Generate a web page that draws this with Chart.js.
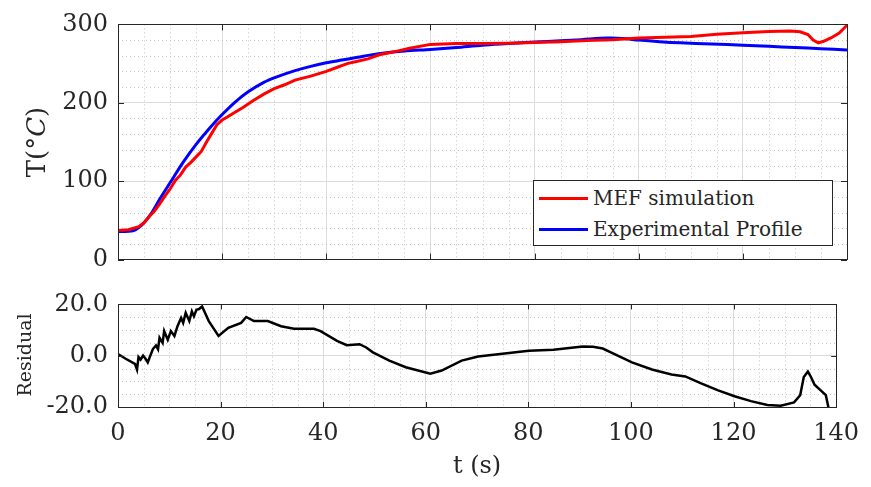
<!DOCTYPE html>
<html>
<head>
<meta charset="utf-8">
<script src="https://cdn.jsdelivr.net/npm/chart.js@4.4.1/dist/chart.umd.min.js"></script>
<style>
  body { margin: 0; background: #fff; }
  #lienzo { position: relative; width: 871px; height: 487px; font-family: "DejaVu Serif", serif; color: #262626; }
  #cajaTemp { position: absolute; left: 0; top: 0; width: 871px; height: 284px; z-index: 1; }
  #cajaRes { position: absolute; left: 0; top: 280px; width: 871px; height: 207px; }
  .etiquetaY { position: absolute; white-space: nowrap; transform: translate(-50%, -50%) rotate(-90deg); z-index: 2; }
  #leyenda { position: absolute; left: 533px; top: 180px; width: 298px; height: 64px; border: 1px solid #262626; background: #fff; font-size: 20px; z-index: 2; }
  .fila { position: absolute; left: 0; height: 30px; line-height: 30px; white-space: nowrap; }
  .muestra { position: absolute; left: 5px; top: 14px; width: 49px; height: 3px; }
  .texto { position: absolute; left: 59px; top: 0; }
</style>
</head>
<body>
<div id="lienzo">
  <div id="cajaTemp"><canvas id="graficoTemp"></canvas></div>
  <div id="cajaRes"><canvas id="graficoRes"></canvas></div>
  <div class="etiquetaY" style="left:36px; top:142px; font-size:26px;">T(°<i>C</i>)</div>
  <div class="etiquetaY" style="left:24px; top:355px; font-size:19px;">Residual</div>
  <div id="leyenda"></div>
</div>
<script>
// Datos
const tSim = [0, 2, 4, 5, 6, 7, 8, 9, 10, 11, 12, 13, 14, 15, 16, 17, 18, 19, 20, 21, 22, 24, 26, 28, 30, 32, 34, 37, 40, 42, 44, 46, 48, 50, 53, 56, 60, 65, 70, 75, 80, 85, 90, 95, 100, 105, 110, 115, 120, 125, 129, 131, 132.5, 133.5, 134.5, 135.5, 137, 138.5, 140];
const tempSim = [37, 38, 42, 47, 55, 62, 71, 81, 90, 101, 108, 118, 124, 131, 138, 150, 161, 172, 178, 182, 186, 194, 203, 211, 218, 223, 229, 234, 240, 245, 250, 253, 256, 261, 265, 269.5, 274.5, 275.5, 275.5, 276, 277, 278, 279.5, 280.5, 282.5, 283.5, 284.5, 287.5, 289.5, 291, 291.5, 290.5, 287, 280, 276.5, 278.5, 283, 289, 299];

const tExp = [0, 2, 3, 4, 5, 6.5, 8, 10, 12.5, 15, 17.5, 20, 22.5, 25, 28, 30.5, 34, 37, 40, 43, 46, 50, 55, 60, 65, 70, 75, 80, 85, 89, 94, 97, 100, 104, 108, 114, 120, 125, 130, 135, 140];
const tempExp = [36, 36, 37, 41, 47, 60, 77, 98, 124, 147, 167, 185, 201, 214, 226, 233, 241, 246.5, 251, 254.5, 258, 262.5, 266, 268, 270.5, 273.5, 275.5, 277.5, 279, 280.5, 282.5, 282, 280, 278, 276.5, 275, 273.5, 272, 270.5, 269, 267.5];

const tRes = [0, 1.5, 3.3, 3.7, 4.0, 4.4, 4.9, 5.3, 5.8, 6.2, 6.8, 7.4, 7.8, 8.1, 8.7, 9.0, 9.7, 10.3, 11.0, 11.6, 12.3, 12.7, 13.2, 13.9, 14.4, 14.8, 15.3, 15.8, 16.4, 17.7, 19.6, 21.5, 24.0, 25.0, 26.5, 29.2, 31.8, 34.3, 38.2, 39.5, 42.7, 44.6, 47.1, 48.4, 49.7, 52.9, 56.1, 60.9, 63.1, 67.0, 70.2, 74.1, 80.1, 84.9, 90.6, 92.6, 94.5, 96.4, 100.2, 104.1, 107.9, 110.6, 113.8, 117.0, 120.2, 123.4, 126.6, 129.2, 131.8, 133.0, 133.7, 134.5, 135.1, 135.8, 137.0, 138.0, 138.7];
const residual = [0.6, -1.2, -3.2, -5.4, -0.5, -1.5, 0, -1, -2.6, -0.5, 2.6, 4, 2.5, 7, 5, 9.6, 6.2, 9.6, 7.7, 11.5, 14.7, 12.8, 16.7, 13.5, 17.3, 15.4, 17.9, 18.2, 19.2, 13.5, 7.7, 10.9, 12.8, 15.1, 13.5, 13.5, 11.5, 10.5, 10.5, 9.6, 5.8, 4.1, 4.5, 3.2, 1.3, -1.9, -4.5, -7, -5.8, -1.9, -0.3, 0.6, 1.9, 2.3, 3.6, 3.5, 2.8, 1, -2.6, -5.4, -7.3, -8.1, -10.9, -13.5, -15.8, -17.7, -19.2, -19.5, -18.2, -15.4, -8.3, -6.2, -8.3, -11.3, -13.5, -15.4, -22];

const etiquetasSeries = ['MEF simulation', 'Experimental Profile'];
const coloresSeries = ['#ff0000', '#0000ff'];

// Rejilla secundaria (punteada)
const menoresT = [5, 10, 15, 25, 30, 35, 45, 50, 55, 65, 70, 75, 85, 90, 95, 105, 110, 115, 125, 130, 135];
const menoresTemp = [20, 40, 60, 80, 120, 140, 160, 180, 220, 240, 260, 280];
const menoresRes = [-15, -10, -5, 5, 10, 15];

const colorTexto = '#262626';
const fuente = '"DejaVu Serif", serif';

function pares(xs, ys) {
    return xs.map((x, i) => ({ x: x, y: ys[i] }));
}

// Estilo tipo MATLAB: caja, marcas hacia dentro y rejilla menor
const ejesMatlab = {
    id: 'ejesMatlab',
    beforeDatasetsDraw(chart, args, opts) {
        const { ctx, chartArea: a, scales } = chart;
        ctx.save();
        ctx.strokeStyle = '#c4c4c4';
        ctx.lineWidth = 1;
        ctx.setLineDash([1, 3]);
        (opts.menoresX || []).forEach(v => {
            const px = Math.round(scales.x.getPixelForValue(v)) + 0.5;
            ctx.beginPath(); ctx.moveTo(px, a.top); ctx.lineTo(px, a.bottom); ctx.stroke();
        });
        (opts.menoresY || []).forEach(v => {
            const py = Math.round(scales.y.getPixelForValue(v)) + 0.5;
            ctx.beginPath(); ctx.moveTo(a.left, py); ctx.lineTo(a.right, py); ctx.stroke();
        });
        ctx.restore();
    },
    afterDraw(chart, args, opts) {
        const { ctx, chartArea: a, scales } = chart;
        const largo = opts.largo || 6;
        ctx.save();
        ctx.strokeStyle = '#262626';
        ctx.lineWidth = 1;
        ctx.setLineDash([]);
        ctx.strokeRect(Math.round(a.left) + 0.5, Math.round(a.top) + 0.5, Math.round(a.right - a.left), Math.round(a.bottom - a.top));
        ctx.beginPath();
        scales.x.ticks.forEach(t => {
            const px = Math.round(scales.x.getPixelForValue(t.value)) + 0.5;
            ctx.moveTo(px, a.bottom); ctx.lineTo(px, a.bottom - largo);
            ctx.moveTo(px, a.top); ctx.lineTo(px, a.top + largo);
        });
        scales.y.ticks.forEach(t => {
            const py = Math.round(scales.y.getPixelForValue(t.value)) + 0.5;
            ctx.moveTo(a.left, py); ctx.lineTo(a.left + largo, py);
            ctx.moveTo(a.right, py); ctx.lineTo(a.right - largo, py);
        });
        ctx.stroke();
        ctx.restore();
    }
};

function ejeX(mostrarEtiquetas) {
    return {
        type: 'linear',
        min: 0,
        max: 140,
        ticks: {
            stepSize: 20,
            display: mostrarEtiquetas,
            color: colorTexto,
            padding: 12,
            font: { family: fuente, size: 24 }
        },
        grid: { color: '#dcdcdc', drawTicks: false },
        border: { display: false },
        title: {
            display: mostrarEtiquetas,
            text: 't (s)',
            color: colorTexto,
            padding: { top: 0, bottom: 6 },
            font: { family: fuente, size: 24 }
        }
    };
}

function ejeY(min, max, paso, formato) {
    return {
        min: min,
        max: max,
        ticks: {
            stepSize: paso,
            color: colorTexto,
            padding: 10,
            font: { family: fuente, size: 24 },
            callback: formato
        },
        grid: { color: '#dcdcdc', drawTicks: false },
        border: { display: false },
        afterFit: function(scale) { scale.width = 118; }
    };
}

const opcionesBase = {
    responsive: false,
    animation: false,
    events: [],
    elements: { point: { radius: 0 } },
    plugins: { legend: { display: false }, tooltip: { enabled: false } }
};

document.addEventListener('DOMContentLoaded', function() {
    const lienzoTemp = document.getElementById('graficoTemp');
    lienzoTemp.width = 871; lienzoTemp.height = 284;
    const graficoTemp = new Chart(lienzoTemp.getContext('2d'), {
        type: 'line',
        data: {
            datasets: [
                { label: etiquetasSeries[0], data: pares(tSim, tempSim), borderColor: coloresSeries[0], borderWidth: 3, tension: 0 },
                { label: etiquetasSeries[1], data: pares(tExp, tempExp), borderColor: coloresSeries[1], borderWidth: 3, tension: 0.3 }
            ]
        },
        options: {
            ...opcionesBase,
            layout: { padding: { top: 24, right: 24, bottom: 17, left: 0 } },
            scales: {
                x: { ...ejeX(false), afterFit: function(scale) { scale.height = 0; } },
                y: ejeY(0, 300, 100, v => v)
            },
            plugins: { ...opcionesBase.plugins, ejesMatlab: { menoresX: menoresT, menoresY: menoresTemp, largo: 6 } }
        },
        plugins: [ejesMatlab]
    });

    const lienzoRes = document.getElementById('graficoRes');
    lienzoRes.width = 871; lienzoRes.height = 207;
    new Chart(lienzoRes.getContext('2d'), {
        type: 'line',
        data: {
            datasets: [
                { label: 'Residual', data: pares(tRes, residual), borderColor: '#000000', borderWidth: 2.5, tension: 0 }
            ]
        },
        options: {
            ...opcionesBase,
            layout: { padding: { top: 23, right: 24, bottom: 0, left: 0 } },
            scales: {
                x: { ...ejeX(true), afterFit: function(scale) { scale.height = 80; } },
                y: ejeY(-20, 20, 20, v => v.toFixed(1))
            },
            plugins: { ...opcionesBase.plugins, ejesMatlab: { menoresX: menoresT, menoresY: menoresRes, largo: 5 } }
        },
        plugins: [ejesMatlab]
    });

    // Leyenda HTML a partir de las series
    const leyenda = document.getElementById('leyenda');
    graficoTemp.data.datasets.forEach((ds, i) => {
        const fila = document.createElement('div');
        fila.className = 'fila';
        fila.style.top = (2 + i * 31) + 'px';
        fila.innerHTML = '<span class="muestra" style="background:' + ds.borderColor + '"></span><span class="texto">' + ds.label + '</span>';
        leyenda.appendChild(fila);
    });
});
</script>
</body>
</html>
